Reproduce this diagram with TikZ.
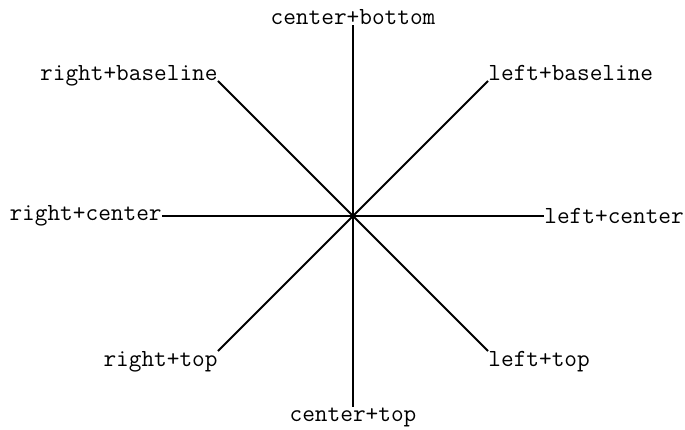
\documentclass[tikz,border=0pt]{standalone}
\usepackage{fontspec}
\usepackage{tikz}
\usetikzlibrary{calc}

\tikzset{
  lbl/.style={font=\ttfamily\fontsize{12.3}{14}\selectfont, inner sep=0pt},
  spoke/.style={line width=0.95pt, black}
}

\begin{document}
\begin{tikzpicture}[x=0.5pt, y=0.5pt]
  \useasboundingbox (0,0) rectangle (685,429);
  \coordinate (c) at (353,213);
  % labels round the centre, each anchored where its spoke ends
  \foreach \ang/\anc/\lab/\nm in {90/south/center+bottom/cb,
                                  270/north/center+top/ct,
                                  180/east/right+center/rc,
                                  0/west/left+center/lc,
                                  135/base east/right+baseline/rb,
                                  45/base west/left+baseline/lb,
                                  225/north east/right+top/rt,
                                  315/north west/left+top/lt} {
    \node[lbl, anchor=\anc] (\nm) at ($(c)+(\ang:191)$) {\lab};
    \draw[spoke] (c) -- (\nm.\anc);
  }
\end{tikzpicture}
\end{document}
